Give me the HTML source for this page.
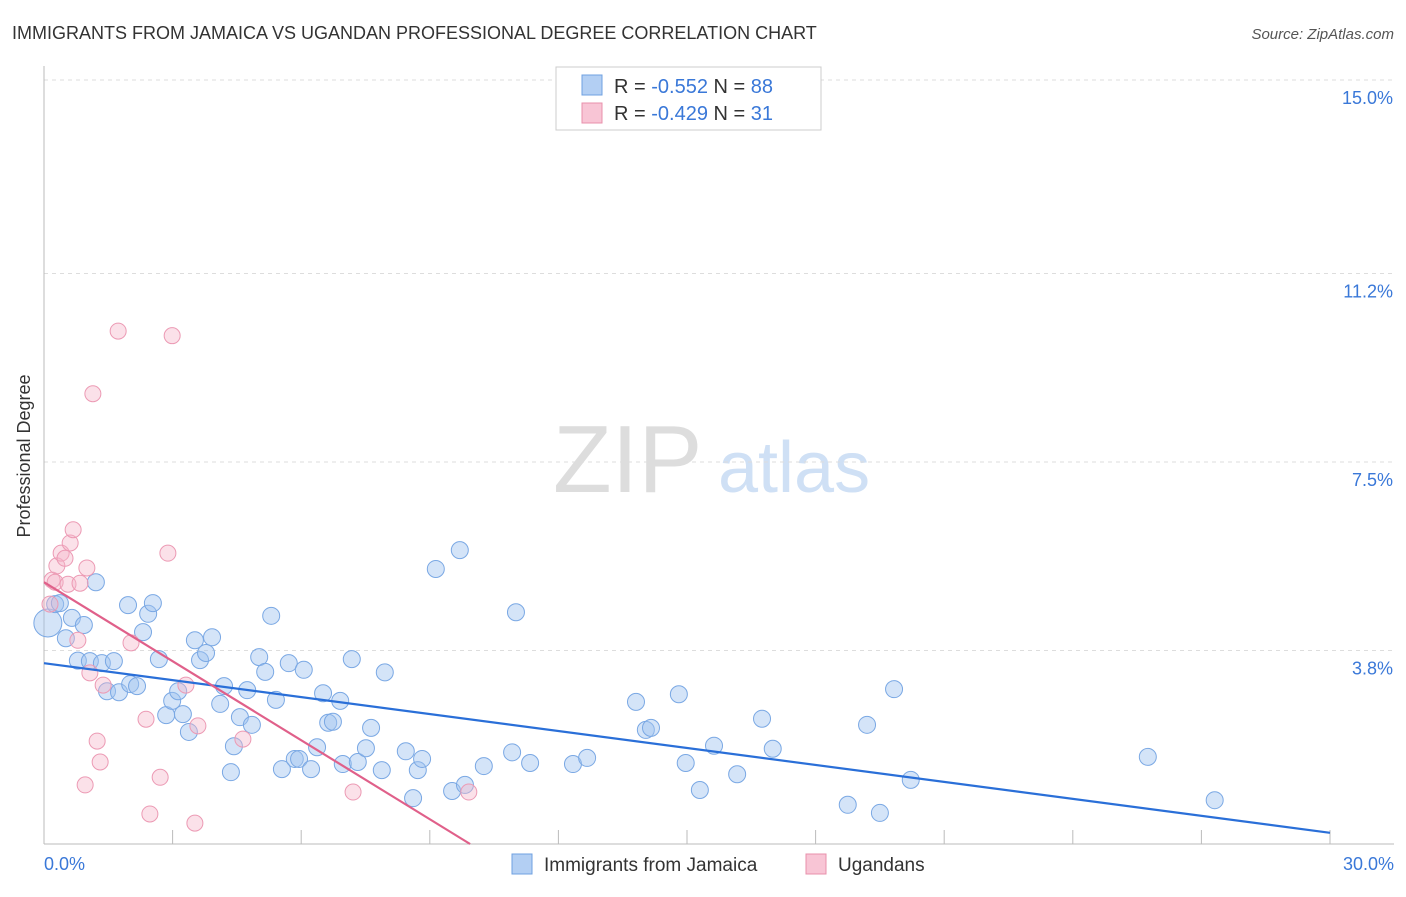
<!DOCTYPE html>
<html><head><meta charset="utf-8">
<style>
body{margin:0;background:#fff;font-family:"Liberation Sans",sans-serif;}
svg text{font-family:"Liberation Sans",sans-serif;}
</style></head>
<body>
<svg id="chart" width="1406" height="892" xmlns="http://www.w3.org/2000/svg">
<text x="12" y="39" font-size="18" fill="#333">IMMIGRANTS FROM JAMAICA VS UGANDAN PROFESSIONAL DEGREE CORRELATION CHART</text>
<text x="1394" y="39" font-size="15" fill="#555" font-style="italic" text-anchor="end">Source: ZipAtlas.com</text>
<g>
<text x="553" y="492" font-size="96" fill="#ddd" font-family="Liberation Serif" >ZIP</text>
<text x="718" y="492" font-size="72" fill="#cfe0f5">atlas</text>
</g>
<g id="grid"></g>
<g id="axes"></g>
<g id="pts"></g>
<g id="trend"></g>
<text x="30" y="456" font-size="18" fill="#333" text-anchor="middle" transform="rotate(-90 30 456)">Professional Degree</text>
<g>
<rect x="556" y="67" width="265" height="63" fill="#fff" stroke="#ccc"/>
<rect x="582" y="75" width="20" height="20" fill="#b3cff3" stroke="#6fa0e0"/>
<text x="614" y="93" font-size="20" fill="#333">R = <tspan fill="#3a78d8">-0.552</tspan>   N = <tspan fill="#3a78d8">88</tspan></text>
<rect x="582" y="103" width="20" height="20" fill="#f8c5d5" stroke="#e890ab"/>
<text x="614" y="120" font-size="20" fill="#333">R = <tspan fill="#3a78d8">-0.429</tspan>   N =  <tspan fill="#3a78d8">31</tspan></text>
</g>
<g>
<rect x="512" y="854" width="20" height="20" fill="#b3cff3" stroke="#6fa0e0"/>
<text x="544" y="871" font-size="19" fill="#333">Immigrants from Jamaica</text>
<rect x="806" y="854" width="20" height="20" fill="#f8c5d5" stroke="#e890ab"/>
<text x="838" y="871" font-size="19" fill="#333">Ugandans</text>
</g>
</svg>
<script>
const yTicks=[3.8,7.5,11.2,15.0];
const yTickLabels=["3.8%","7.5%","11.2%","15.0%"];
const xTickLabels=["0.0%","30.0%"];
const blueX=[0.09,0.26,0.37,0.51,0.65,0.93,0.79,1.07,1.21,1.35,1.47,1.63,1.75,1.96,2.01,2.17,2.31,2.43,2.54,2.68,2.85,2.99,3.13,3.24,3.38,3.52,3.64,3.78,3.92,4.11,4.2,4.36,4.43,4.57,4.74,4.85,5.02,5.16,5.3,5.41,5.55,5.71,5.85,5.95,6.06,6.23,6.37,6.51,6.63,6.74,6.91,6.97,7.18,7.32,7.51,7.63,7.88,7.95,8.44,8.61,8.72,8.82,9.14,9.52,9.7,9.82,10.26,10.92,11.01,11.34,12.34,12.67,13.81,14.04,14.16,14.81,14.97,15.3,15.63,16.17,16.75,17.0,18.75,19.2,19.5,19.83,20.22,25.75,27.31];
const blueY=[4.34,4.71,4.73,4.04,4.44,4.3,3.6,3.59,5.14,3.55,3.0,3.59,2.98,4.69,3.14,3.1,4.16,4.52,4.73,3.63,2.53,2.81,3.0,2.55,2.2,4.0,3.61,3.75,4.06,2.75,3.1,1.41,1.92,2.49,3.02,2.34,3.67,3.38,4.48,2.83,1.47,3.55,1.67,1.67,3.42,1.47,1.9,2.96,2.38,2.4,2.81,1.57,3.63,1.61,1.88,2.28,1.45,3.37,1.82,0.9,1.45,1.67,5.4,1.04,5.77,1.16,1.53,1.8,4.55,1.59,1.57,1.69,2.79,2.24,2.28,2.94,1.59,1.06,1.93,1.37,2.46,1.87,0.77,2.34,0.61,3.04,1.26,1.71,0.86];
const pinkX=[0.14,0.19,0.26,0.3,0.4,0.49,0.56,0.61,0.68,0.79,0.84,1.0,1.07,1.14,1.24,1.31,1.38,0.96,1.73,2.03,2.38,2.47,2.71,2.89,2.99,3.31,3.52,3.59,4.64,7.21,9.91];
const pinkY=[4.71,5.18,5.14,5.46,5.71,5.61,5.1,5.91,6.17,4.0,5.12,5.42,3.36,8.84,2.02,1.61,3.12,1.16,10.07,3.95,2.45,0.59,1.31,5.71,9.98,3.12,0.41,2.32,2.06,1.02,1.02];
const blueFit=[3.55,0.22], pinkFit=[5.14,0.0], pinkEnd=9.94;
const NS="http://www.w3.org/2000/svg";
const X0=44,X1=1330,Y0=844,Y15=80;
const sx=v=>X0+(X1-X0)*v/30, sy=v=>Y0-(Y0-Y15)*v/15;
function mk(tag,attrs,parent){const e=document.createElementNS(NS,tag);for(const k in attrs)e.setAttribute(k,attrs[k]);parent.appendChild(e);return e;}
const grid=document.getElementById('grid'),axes=document.getElementById('axes');
yTicks.forEach((t,i)=>{
 const g=mk('line',{x1:44,x2:1394,y1:sy(t),y2:sy(t),stroke:'#ddd','stroke-dasharray':'4,4'},grid);
 
 
 const tx=mk('text',{x:1393,y:sy(t)+24,'font-size':18,fill:'#3a78d8','text-anchor':'end'},axes);
 tx.textContent=yTickLabels[i];
 
 
});
const ya=mk('line',{x1:44,x2:44,y1:66,y2:844,stroke:'#bbb'},axes);


const xa=mk('line',{x1:44,x2:1394,y1:844,y2:844,stroke:'#bbb'},axes);


for(let i=1;i<=10;i++){const t=mk('line',{x1:sx(i*3),x2:sx(i*3),y1:830,y2:844,stroke:'#bbb'},axes);
 
 }
[[0,'start',44],[30,'end',1394]].forEach((a,i)=>{const t=mk('text',{x:a[2],y:870,'font-size':18,fill:'#3a78d8','text-anchor':a[1]},axes);t.textContent=xTickLabels[i];
 
 });
const pts=document.getElementById('pts');
blueX.forEach((x,i)=>{const c=mk('circle',{cx:sx(x),cy:sy(blueY[i]),r:i==0?14:8.5,fill:'rgba(160,195,240,0.45)',stroke:'#7aa8e4','stroke-width':1},pts);
 
 });
pinkX.forEach((x,i)=>{const c=mk('circle',{cx:sx(x),cy:sy(pinkY[i]),r:8,fill:'rgba(245,180,200,0.4)',stroke:'#ec9ab4','stroke-width':1},pts);
 
 });
const tr=document.getElementById('trend');
const bl=mk('line',{x1:sx(0),y1:sy(blueFit[0]),x2:sx(30),y2:sy(blueFit[1]),stroke:'#2a6fd8','stroke-width':2.2},tr);


const pl=mk('line',{x1:sx(0),y1:sy(pinkFit[0]),x2:sx(pinkEnd),y2:sy(pinkFit[1]),stroke:'#e0608a','stroke-width':2.2},tr);


</script>
</body></html>
